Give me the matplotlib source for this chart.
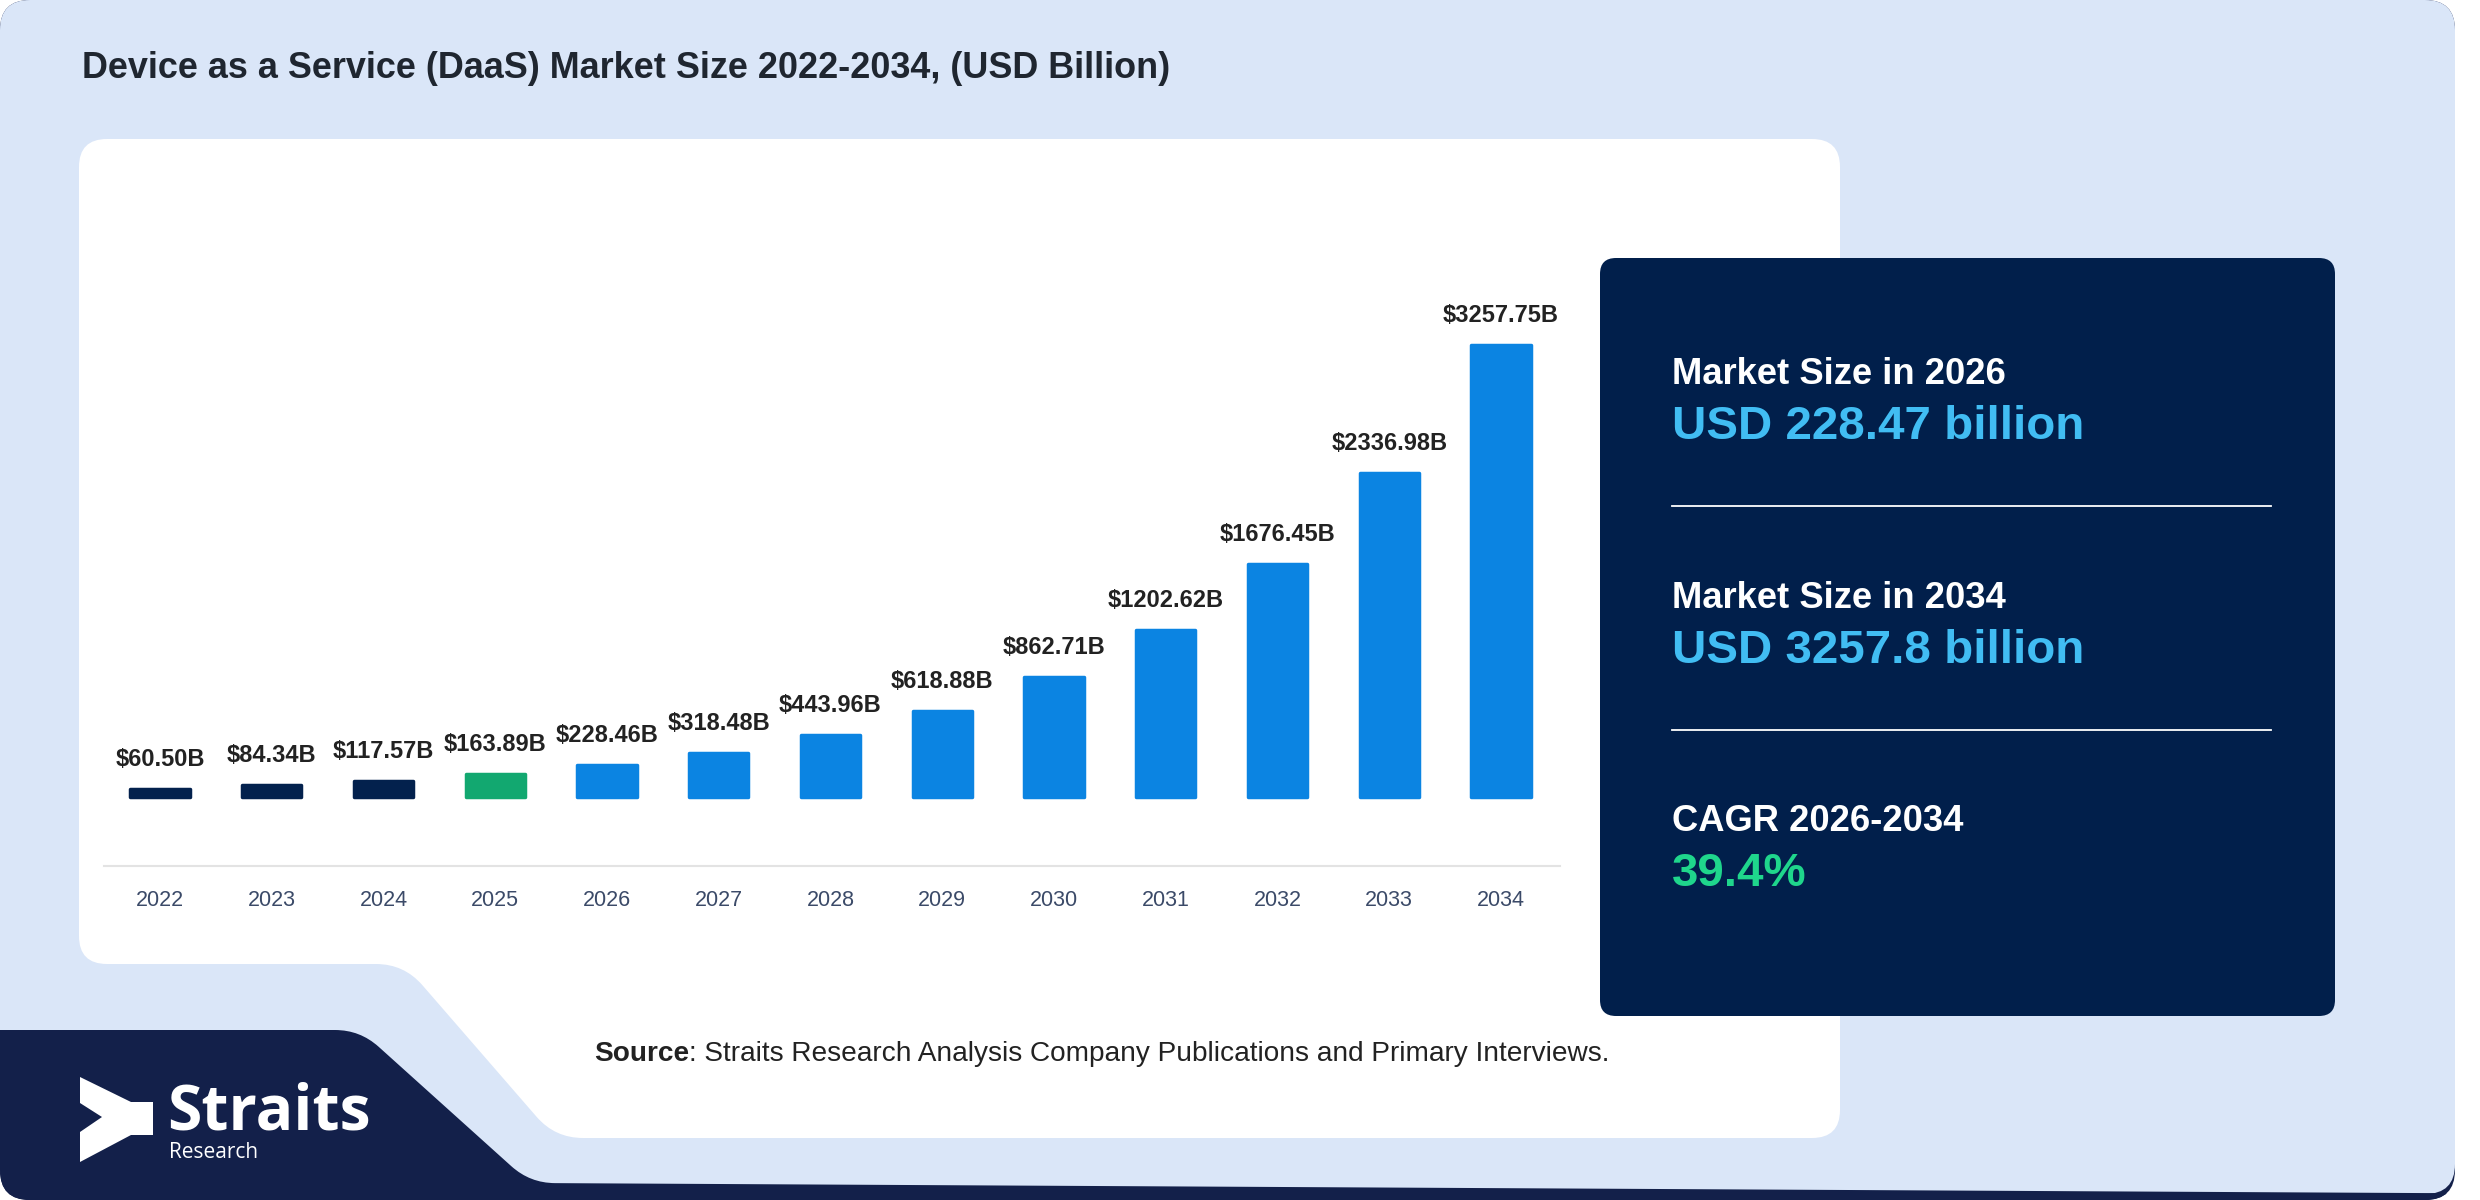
import numpy as np
import matplotlib
matplotlib.use("Agg")
import matplotlib.pyplot as plt
from matplotlib.patches import FancyBboxPatch, PathPatch, Polygon
from matplotlib.path import Path

plt.rcParams['font.family'] = ['Liberation Sans', 'DejaVu Sans']

# data
years = ["2022", "2023", "2024", "2025", "2026", "2027", "2028",
         "2029", "2030", "2031", "2032", "2033", "2034"]
values = [60.50, 84.34, 117.57, 163.89, 228.46, 318.48, 443.96,
          618.88, 862.71, 1202.62, 1676.45, 2336.98, 3257.75]
bar_colors = ["#03214d"] * 3 + ["#12a870"] + ["#0b84e2"] * 9

title = "Device as a Service (DaaS) Market Size 2022-2034, (USD Billion)"
kpi_heads = ["Market Size in 2026", "Market Size in 2034", "CAGR 2026-2034"]
kpi_values = ["USD 228.47 billion", "USD 3257.8 billion", "39.4%"]
kpi_colors = ["#41bdf3", "#41bdf3", "#1fd68c"]
source_rest = ": Straits Research Analysis Company Publications and Primary Interviews."

LIGHT = "#dae6f8"
NAVY = "#13204a"
PANEL = "#011f4b"


def rounded_path(pts, r):
    verts, codes = [], []
    n = len(pts)
    for i in range(n):
        p0 = np.array(pts[i - 1], float)
        p1 = np.array(pts[i], float)
        p2 = np.array(pts[(i + 1) % n], float)
        d1 = (p0 - p1) / np.linalg.norm(p0 - p1)
        d2 = (p2 - p1) / np.linalg.norm(p2 - p1)
        verts.append(p1 + d1 * r)
        codes.append(Path.MOVETO if i == 0 else Path.LINETO)
        verts += [p1, p1 + d2 * r]
        codes += [Path.CURVE3, Path.CURVE3]
    verts.append(verts[0])
    codes.append(Path.CLOSEPOLY)
    return Path(verts, codes)


fig = plt.figure(figsize=(24.8, 12), dpi=100)
fig.patch.set_facecolor("white")

# background in pixel coordinates
bg = fig.add_axes([0, 0, 1, 1])
bg.set_xlim(0, 2480)
bg.set_ylim(1200, 0)
bg.axis("off")

card_dark = FancyBboxPatch((0, 0), 2455, 1200, boxstyle="round,pad=0,rounding_size=30",
                           fc=NAVY, ec="none")
bg.add_patch(card_dark)
bg.add_patch(FancyBboxPatch((0, 0), 2455, 1194, boxstyle="round,pad=0,rounding_size=30",
                            fc=LIGHT, ec="none"))

logo_bg = PathPatch(rounded_path([(-40, 1030), (360, 1030), (530, 1183),
                                  (2600, 1194), (2600, 1260), (-40, 1260)], 25),
                    fc=NAVY, ec="none")
bg.add_patch(logo_bg)
logo_bg.set_clip_path(card_dark)

white = PathPatch(rounded_path([(79, 139), (1840, 139), (1840, 1138), (555, 1138),
                                (404, 964), (79, 964)], 28), fc="white", ec="none")
bg.add_patch(white)

bg.text(82, 78, title, fontsize=25.9, fontweight="bold", color="#1f2630",
        ha="left", va="baseline")

# source line
t_src = bg.text(594, 1061, "Source", fontsize=20.2, fontweight="bold", color="#222222",
                ha="left", va="baseline")
bg.annotate(source_rest, xy=(1, 0), xycoords=t_src, fontsize=20.2, color="#222222",
            ha="left", va="bottom")

# logo
bg.add_patch(Polygon([(80, 1077), (131, 1102), (153, 1102), (153, 1135), (131, 1135),
                      (80, 1162), (80, 1132), (102, 1117), (80, 1103)],
                     closed=True, fc="white", ec="none"))
bg.text(167, 1129, "Straits", fontsize=45, fontweight="bold", color="white",
        family="Open Sans", ha="left", va="baseline")
bg.text(169, 1158, "Research", fontsize=15, color="white", family="Open Sans",
        ha="left", va="baseline")

# right KPI panel
bg.add_patch(FancyBboxPatch((1600, 258), 735, 758, boxstyle="round,pad=0,rounding_size=16",
                            fc=PANEL, ec="none"))
head_y = [384, 608, 831]
val_y = [439, 663, 886]
for h, v, c, hy, vy in zip(kpi_heads, kpi_values, kpi_colors, head_y, val_y):
    bg.text(1672, hy, h, fontsize=26.2, fontweight="bold", color="white",
            ha="left", va="baseline")
    bg.text(1672, vy, v, fontsize=34.2, fontweight="bold", color=c,
            ha="left", va="baseline")
for ly in [506, 730]:
    bg.plot([1672, 2271], [ly, ly], color="white", lw=1.3)

# bar chart
ax = fig.add_axes([104 / 2480, (1200 - 866) / 1200, (1560 - 104) / 2480, (866 - 139) / 1200])
ax.patch.set_alpha(0)
x = np.arange(len(years))
bars = ax.bar(x, values, width=0.53, color=bar_colors, edgecolor=bar_colors,
              linewidth=2.5, joinstyle="round")
for b, v in zip(bars, values):
    ax.annotate(f"${v:.2f}B", (b.get_x() + b.get_width() / 2, v), xytext=(0, 13),
                textcoords="offset points", ha="center", va="bottom",
                fontsize=17, fontweight="bold", color="#222222")
ax.set_xlim(-0.501, 12.528)
ax.set_ylim(-497, 4742)
ax.set_xticks(x)
ax.set_xticklabels(years, fontsize=15.5, color="#3b4a68")
ax.tick_params(axis="x", length=0, pad=17)
ax.set_yticks([])
for s in ["top", "left", "right"]:
    ax.spines[s].set_visible(False)
ax.spines["bottom"].set_color("#e3e3e3")
ax.spines["bottom"].set_linewidth(1.5)

fig.savefig("out.png", dpi=100, facecolor=fig.get_facecolor())
